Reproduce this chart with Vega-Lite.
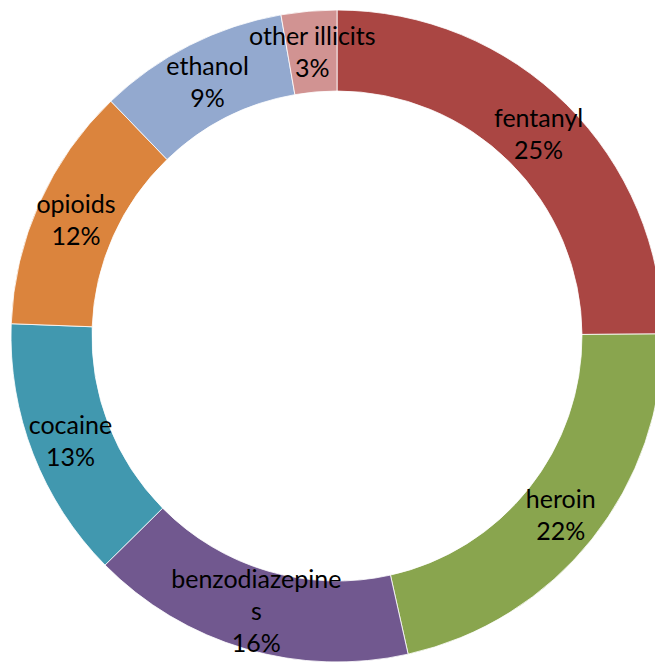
{
  "$schema": "https://vega.github.io/schema/vega-lite/v6.json",
  "width": 636,
  "height": 656,
  "autosize": {"type": "none"},
  "padding": {"left": 19, "right": 0, "top": 8, "bottom": 0},
  "background": "white",
  "view": {"stroke": null},
  "data": {
    "values": [
      {"drug": "fentanyl", "pct": 24.9, "label": "fentanyl\n25%"},
      {"drug": "heroin", "pct": 21.6, "label": "heroin\n22%"},
      {"drug": "benzodiazepines", "pct": 16.1, "label": "benzodiazepine\ns\n16%"},
      {"drug": "cocaine", "pct": 13.0, "label": "cocaine\n13%"},
      {"drug": "opioids", "pct": 12.2, "label": "opioids\n12%"},
      {"drug": "ethanol", "pct": 9.45, "label": "ethanol\n9%"},
      {"drug": "other illicits", "pct": 2.75, "label": "other illicits\n3%"}
    ]
  },
  "encoding": {
    "theta": {"field": "pct", "type": "quantitative", "stack": true},
    "order": {"field": "pct", "sort": "descending"}
  },
  "layer": [
    {
      "mark": {"type": "arc", "outerRadius": 326, "innerRadius": 245, "stroke": "white", "strokeWidth": 0.8},
      "encoding": {
        "color": {
          "field": "drug",
          "type": "nominal",
          "legend": null,
          "scale": {
            "domain": ["fentanyl", "heroin", "benzodiazepines", "cocaine", "opioids", "ethanol", "other illicits"],
            "range": ["#AA4643", "#89A54E", "#71588F", "#4198AF", "#DB843D", "#93A9CF", "#D19392"]
          }
        }
      }
    },
    {
      "mark": {
        "type": "text",
        "radius": 286,
        "font": "Lato",
        "fontSize": 25,
        "lineHeight": 32,
        "lineBreak": "\n",
        "color": "black",
        "align": "center",
        "baseline": "middle",
        "dy": {"expr": "datum.drug === 'benzodiazepines' ? -30 : -14"}
      },
      "encoding": {
        "text": {"field": "label", "type": "nominal"}
      }
    }
  ]
}
